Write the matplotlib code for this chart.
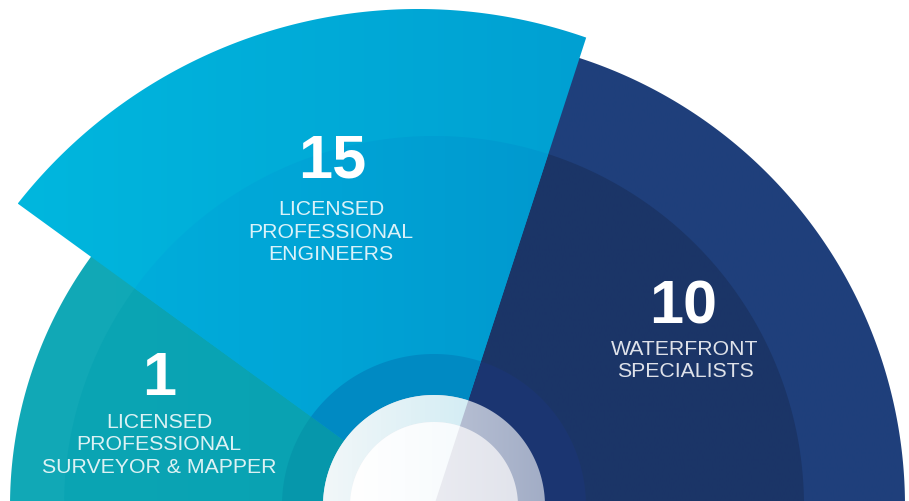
import numpy as np
import matplotlib
matplotlib.use("Agg")
import matplotlib.pyplot as plt
from matplotlib.patches import PathPatch
from matplotlib.path import Path
from matplotlib.colors import to_rgb

# data
counts = [1, 15, 10]
titles = [
    ["LICENSED", "PROFESSIONAL", "SURVEYOR & MAPPER"],
    ["LICENSED", "PROFESSIONAL", "ENGINEERS"],
    ["WATERFRONT", "SPECIALISTS"],
]

# layout (pixel units, y up)
W, H = 909, 502
apex = np.array([434.0, -5.0])
spans = [(144, 190), (72, 144), (-10, 72)]
# outer arc of each wedge: centre and radius
arc_c = [(434, -5), (418, -17), (434, -5)]
arc_r = [424, 509, 471]
mid_r = 370
inner_r = 152
ring_r = 111
core_r = 84
# baselines of the number and of the first label line
num_xy = [(159, 107), (332, 325), (683, 179)]
lab_xy = [(159, 74), (331, 287), (685, 147)]
line_step = 22.5

# colours per wedge: outer band (left, right), mid band (left, right), inner band
band_cols = [
    (("#12a9b7", "#0ea6b5"), ("#0ba5b4", "#08a1b2"), "#0697ab"),
    (("#00b7de", "#00a0d2"), ("#00addb", "#0099cf"), "#008ac3"),
    (("#1f3f7b", "#1f407c"), ("#1c3568", "#1b3567"), "#1b3571"),
]

fig = plt.figure(figsize=(W / 100, H / 100), dpi=100)
ax = fig.add_axes([0, 0, 1, 1])
ax.set_xlim(0, W)
ax.set_ylim(0, H)
ax.axis("off")


def sector(t1, t2, centre, r):
    c = np.array(centre, dtype=float)

    def hit(t):
        u = np.array([np.cos(np.radians(t)), np.sin(np.radians(t))])
        d = apex - c
        b = d @ u
        s = -b + np.sqrt(b * b - (d @ d - r * r))
        return apex + s * u

    p1, p2 = hit(t1), hit(t2)
    a1 = np.arctan2(*(p1 - c)[::-1])
    a2 = np.arctan2(*(p2 - c)[::-1])
    if a2 < a1:
        a2 += 2 * np.pi
    a = np.linspace(a1, a2, 300)
    arc = np.column_stack([c[0] + r * np.cos(a), c[1] + r * np.sin(a)])
    verts = np.vstack([apex, arc, apex])
    codes = [Path.MOVETO] + [Path.LINETO] * len(arc) + [Path.CLOSEPOLY]
    return Path(verts, codes)


def grad_fill(path, c_left, c_right, z):
    patch = PathPatch(path, facecolor="none", edgecolor="none")
    ax.add_patch(patch)
    ext = path.get_extents()
    a = np.array(to_rgb(c_left))
    b = np.array(to_rgb(c_right))
    t = np.linspace(0, 1, 256)[:, None]
    img = (a + (b - a) * t)[None, :, :]
    im = ax.imshow(img, extent=[ext.x0, ext.x1, -20, H + 20], aspect="auto",
                   interpolation="bilinear", zorder=z)
    im.set_clip_path(patch)


def solid(path, col, z):
    ax.add_patch(PathPatch(path, facecolor=col, edgecolor="none", zorder=z))


# side wedges run under the middle one so no seams show
under_spans = [(144 - 8, 190), (72, 144), (-10, 72 + 8)]
order = [0, 2, 1]
for i in order:
    t1, t2 = under_spans[i]
    grad_fill(sector(t1, t2, arc_c[i], arc_r[i]), *band_cols[i][0], 1)
for i in order:
    t1, t2 = spans[i]
    grad_fill(sector(t1, t2, apex, mid_r), *band_cols[i][1], 2)
for i in order:
    t1, t2 = spans[i]
    solid(sector(t1, t2, apex, inner_r), band_cols[i][2], 3)

# white hub, split along the same line as the wedges
grad_fill(sector(-10, 190, apex, ring_r), "#d3d8e5", "#a2adc6", 4)
grad_fill(sector(72, 190, apex, ring_r), "#f2f7f9", "#d4edf4", 5)
grad_fill(sector(-10, 190, apex, core_r), "#f2f2f6", "#e2e4ec", 6)
grad_fill(sector(72, 190, apex, core_r), "#ffffff", "#f7fbfd", 7)

# labels
for i in range(3):
    x, y = num_xy[i]
    ax.text(x, y, str(counts[i]), color="white", fontsize=44, fontweight="bold",
            family="Liberation Sans", ha="center", va="baseline", zorder=9)
    lx, ly = lab_xy[i]
    for k, line in enumerate(titles[i]):
        ax.text(lx, ly - k * line_step, line, color="white", alpha=0.86,
                fontsize=15.3, family="Liberation Sans", ha="center",
                va="baseline", zorder=9)

fig.savefig("out.png", dpi=100)
